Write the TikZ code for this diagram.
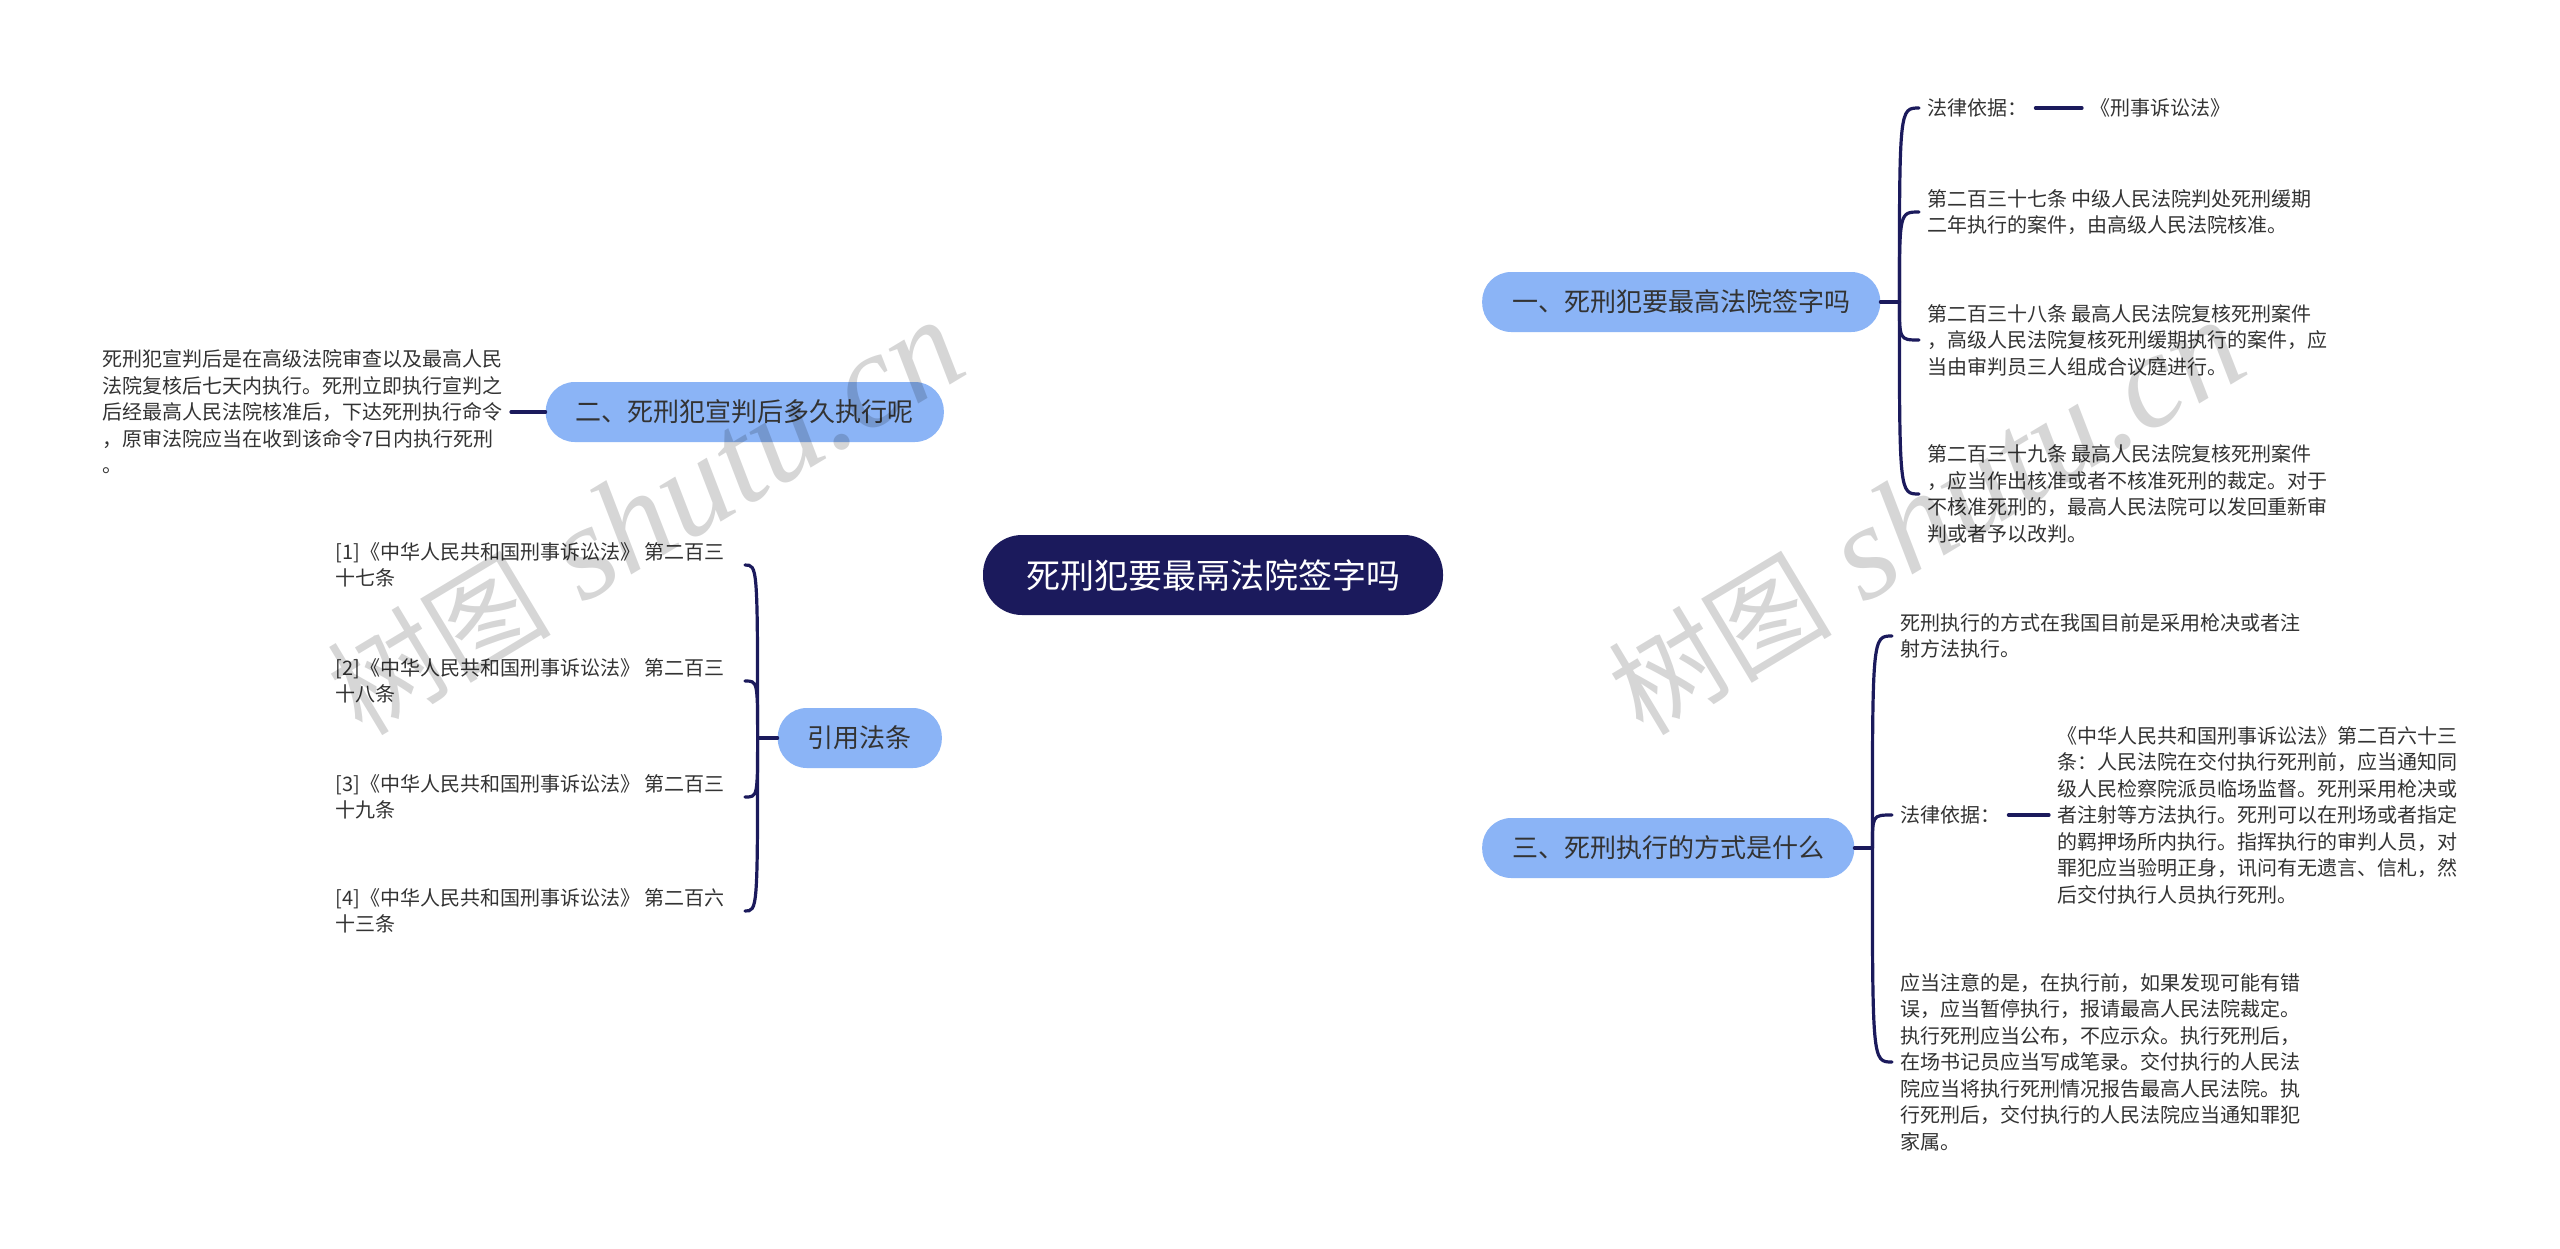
\documentclass[tikz,border=0pt]{standalone}
\usepackage{fontspec}
\setmainfont{Noto Sans CJK SC}
\newfontfamily\markserif{Liberation Serif}
\usepackage{xcolor}
\definecolor{rootNavy}{HTML}{1B1A5C}
\definecolor{topicBlue}{HTML}{8BB4F6}
\definecolor{bodyText}{HTML}{333333}
\usepackage{tikz}
\usetikzlibrary{
    positioning,
    backgrounds
}
\tikzset{
    % Root topic - dark pill
    root/.style={
        rectangle,
        rounded corners=39pt,
        fill=rootNavy,
        text=white,
        font=\fontsize{34}{40}\selectfont,
        minimum width=460pt,
        minimum height=80pt,
        inner sep=0pt,
    },
    % Main topics - light blue pill
    topic/.style={
        rectangle,
        rounded corners=29pt,
        fill=topicBlue,
        text=bodyText,
        font=\fontsize{26}{30}\selectfont,
        minimum height=60pt,
        inner xsep=30pt,
        inner ysep=0pt,
    },
    % Leaf texts
    leaf/.style={
        text=bodyText,
        align=left,
        font=\fontsize{20}{26.5}\selectfont,
        inner xsep=8pt,
        inner ysep=3pt,
    },
    % Leaf texts on the left side, right edge fixed
    leaf left/.style={
        leaf,
        anchor=east,
    },
    % Reference list entries
    ref entry/.style={
        leaf left,
        inner xsep=20pt,
    },
    % Lines from root to topics
    branch/.style={
        draw=rootNavy,
        line width=3.6pt,
        line cap=round,
    },
    % Lines from topics to leaves
    twig/.style={
        draw=rootNavy,
        line width=3.2pt,
        line cap=round,
    },
    % Site watermark
    watermark/.style={
        text=black,
        opacity=0.16,
        rotate=31,
        inner sep=0pt,
        font=\fontsize{112}{112}\selectfont,
    },
}

\begin{document}
\begin{tikzpicture}[x=1pt, y=-1pt]
    \useasboundingbox (0,0) rectangle (2560,1248);
    \fill[white] (0,0) rectangle (2560,1248);

    % Root and main topics
    \node (root) [root] at (1213,575) {死刑犯要最鬲法院签字吗};
    \node (sign) [topic, anchor=west] at (1482,302) {一、死刑犯要最高法院签字吗};
    \node (delay) [topic, anchor=east] at (944,412) {二、死刑犯宣判后多久执行呢};
    \node (method) [topic, anchor=west] at (1482,848) {三、死刑执行的方式是什么};
    \node (refs) [topic, anchor=east] at (942,738) {引用法条};

    % Leaves of topic one
    \node (basisA) [leaf, anchor=west] at (1919,108) {法律依据：};
    \node (codeA) [leaf, anchor=west] at (2082,108) {《刑事诉讼法》};
    \node (art237) [leaf, anchor=west] at (1919,212) {第二百三十七条 中级人民法院判处死刑缓期\\二年执行的案件，由高级人民法院核准。};
    \node (art238) [leaf, anchor=west] at (1919,340) {第二百三十八条 最高人民法院复核死刑案件\\，高级人民法院复核死刑缓期执行的案件，应\\当由审判员三人组成合议庭进行。};
    \node (art239) [leaf, anchor=west] at (1919,494) {第二百三十九条 最高人民法院复核死刑案件\\，应当作出核准或者不核准死刑的裁定。对于\\不核准死刑的，最高人民法院可以发回重新审\\判或者予以改判。};

    % Leaf of topic two
    \node (timing) [leaf left] at (511,412) {死刑犯宣判后是在高级法院审查以及最高人民\\法院复核后七天内执行。死刑立即执行宣判之\\后经最高人民法院核准后，下达死刑执行命令\\，原审法院应当在收到该命令7日内执行死刑\\。};

    % Leaves of topic three
    \node (way) [leaf, anchor=west] at (1892,636) {死刑执行的方式在我国目前是采用枪决或者注\\射方法执行。};
    \node (basisB) [leaf, anchor=west] at (1892,815) {法律依据：};
    \node (art263) [leaf, anchor=west] at (2049,815) {《中华人民共和国刑事诉讼法》第二百六十三\\条：人民法院在交付执行死刑前，应当通知同\\级人民检察院派员临场监督。死刑采用枪决或\\者注射等方法执行。死刑可以在刑场或者指定\\的羁押场所内执行。指挥执行的审判人员，对\\罪犯应当验明正身，讯问有无遗言、信札，然\\后交付执行人员执行死刑。};
    \node (caution) [leaf, anchor=west] at (1892,1062) {应当注意的是，在执行前，如果发现可能有错\\误，应当暂停执行，报请最高人民法院裁定。\\执行死刑应当公布，不应示众。执行死刑后，\\在场书记员应当写成笔录。交付执行的人民法\\院应当将执行死刑情况报告最高人民法院。执\\行死刑后，交付执行的人民法院应当通知罪犯\\家属。};

    % Leaves of the references topic
    \node (ref1) [ref entry] at (745,565) {[1]《中华人民共和国刑事诉讼法》 第二百三\\十七条};
    \node (ref2) [ref entry] at (745,681) {[2]《中华人民共和国刑事诉讼法》 第二百三\\十八条};
    \node (ref3) [ref entry] at (745,797) {[3]《中华人民共和国刑事诉讼法》 第二百三\\十九条};
    \node (ref4) [ref entry] at (745,911) {[4]《中华人民共和国刑事诉讼法》 第二百六\\十三条};

    \begin{scope}[on background layer]
        \draw [branch] (root.center) to[out=90, in=180] (sign.west);
        \draw [branch] (root.center) to[out=90, in=0] (delay.east);
        \draw [branch] (root.center) to[out=-90, in=180] (method.west);
        \draw [branch] (root.center) to[out=-90, in=0] (refs.east);
    \end{scope}

    % Brackets to the leaves
    \draw [twig] (sign.east) -- ++(19,0) coordinate (forkA);
    \foreach \leaf in {basisA, art237, art238, art239}
        \draw [twig] (forkA) .. controls (forkA |- \leaf.west) .. (\leaf.west);
    \draw [twig] (method.east) -- ++(18,0) coordinate (forkC);
    \foreach \leaf in {way, basisB, caution}
        \draw [twig] (forkC) .. controls (forkC |- \leaf.west) .. (\leaf.west);
    \draw [twig] (refs.west) -- ++(-20,0) coordinate (forkD);
    \foreach \leaf in {ref1, ref2, ref3, ref4}
        \draw [twig] (forkD) .. controls (forkD |- \leaf.east) .. (\leaf.east);
    \draw [twig] (timing.east) -- (delay.west);
    \draw [twig] (basisA) -- (codeA);
    \draw [twig] (basisB) -- (art263);

    % Watermarks
    \node (markL) [watermark] at (645,518) {树图{\markserif\itshape\fontsize{135}{135}\selectfont{} shutu.cn}};
    \node (markR) [watermark] at (1926,518) {树图{\markserif\itshape\fontsize{135}{135}\selectfont{} shutu.cn}};
\end{tikzpicture}
\end{document}
